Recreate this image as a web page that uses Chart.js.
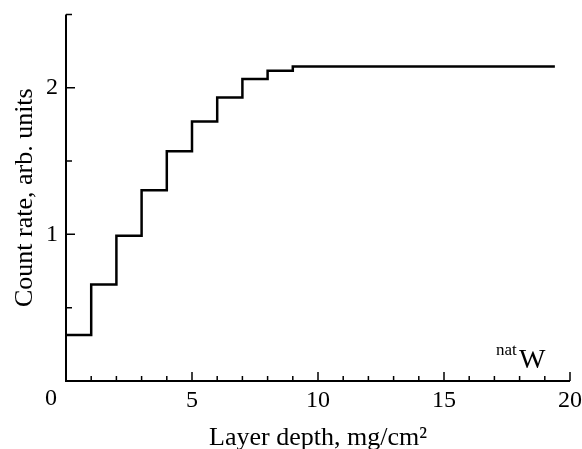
<!DOCTYPE html>
<html>
<head>
<meta charset="utf-8">
<script src="https://cdn.jsdelivr.net/npm/chart.js@4/dist/chart.umd.min.js"></script>
<style>
  html, body { margin: 0; padding: 0; background: #fff; }
  #wrap { width: 582px; height: 449px; }
</style>
</head>
<body>
<div id="wrap"><canvas id="stepChart" width="582" height="449"></canvas></div>
<script>
// layer depth where each step starts (mg/cm2) and the count rate held from there
const depths = [0, 1, 2, 3, 4, 5, 6, 7, 8, 9, 19.4];
const counts = [0.313, 0.658, 0.99, 1.30, 1.567, 1.77, 1.934, 2.06, 2.116, 2.145, 2.145];
const xMajorTicks = [5, 10, 15, 20];
const yMajorTicks = [1, 2];

const serif = "'Liberation Serif', 'Times New Roman', serif";

// axis lines and inward ticks, plus the "0" label and the natW note
const axesPlugin = {
  id: "axesPlugin",
  afterDraw(chart) {
    const ctx = chart.ctx;
    const xs = chart.scales.x;
    const ys = chart.scales.y;
    const left = xs.getPixelForValue(0);
    const right = xs.getPixelForValue(20);
    const bottom = ys.getPixelForValue(0);
    const top = ys.getPixelForValue(2.5);

    ctx.save();
    ctx.strokeStyle = "#000";
    ctx.lineWidth = 2;
    ctx.beginPath();
    ctx.moveTo(left, top);
    ctx.lineTo(left, bottom);
    ctx.lineTo(right, bottom);
    ctx.stroke();

    ctx.lineWidth = 1.5;
    ctx.beginPath();
    for (let v = 1; v <= 20; v++) {
      const px = xs.getPixelForValue(v);
      const len = xMajorTicks.includes(v) ? 9 : 5;
      ctx.moveTo(px, bottom);
      ctx.lineTo(px, bottom - len);
    }
    for (let v = 0.5; v <= 2.5; v += 0.5) {
      const py = ys.getPixelForValue(v);
      const len = yMajorTicks.includes(v) ? 9 : 6;
      ctx.moveTo(left, py);
      ctx.lineTo(left + len, py);
    }
    ctx.stroke();

    ctx.fillStyle = "#000";
    ctx.font = "24px " + serif;
    ctx.textAlign = "center";
    ctx.textBaseline = "middle";
    ctx.fillText("0", left - 15, bottom + 18);

    ctx.textAlign = "left";
    ctx.textBaseline = "alphabetic";
    ctx.font = "17px " + serif;
    ctx.fillText("nat", 496, 355);
    ctx.font = "28px " + serif;
    ctx.fillText("W", 519, 368);
    ctx.restore();
  },
};

new Chart(document.getElementById("stepChart"), {
  type: "line",
  data: {
    datasets: [
      {
        data: depths.map((d, i) => ({ x: d, y: counts[i] })),
        stepped: true,
        borderColor: "#000",
        borderWidth: 2.5,
        pointRadius: 0,
        fill: false,
      },
    ],
  },
  options: {
    responsive: false,
    devicePixelRatio: 1,
    animation: false,
    layout: { padding: { top: -7, right: 12, left: 10, bottom: 0 } },
    plugins: { legend: { display: false }, tooltip: { enabled: false } },
    scales: {
      x: {
        type: "linear",
        min: 0,
        max: 20,
        grid: { display: false, tickLength: 5 },
        border: { display: false },
        ticks: {
          stepSize: 1,
          autoSkip: false,
          maxRotation: 0,
          color: "#000",
          font: { family: serif, size: 24 },
          padding: 0,
          callback: (v) => (xMajorTicks.includes(v) ? String(v) : ""),
        },
        title: {
          display: true,
          text: "Layer depth, mg/cm²",
          color: "#000",
          font: { family: serif, size: 26, lineHeight: 1 },
          padding: { top: 0, bottom: -2 },
        },
        afterFit: (scale) => {
          scale.height = 68;
        },
      },
      y: {
        min: 0,
        max: 2.5,
        grid: { display: false },
        border: { display: false },
        ticks: {
          stepSize: 0.5,
          autoSkip: false,
          color: "#000",
          font: { family: serif, size: 24 },
          padding: 0,
          callback: (v) => (yMajorTicks.includes(v) ? String(v) : ""),
        },
        title: {
          display: true,
          text: "Count rate, arb. units",
          color: "#000",
          font: { family: serif, size: 26 },
          padding: { top: 0, bottom: 0 },
        },
        afterFit: (scale) => {
          scale.width = 56;
        },
      },
    },
  },
  plugins: [axesPlugin],
});
</script>
</body>
</html>
